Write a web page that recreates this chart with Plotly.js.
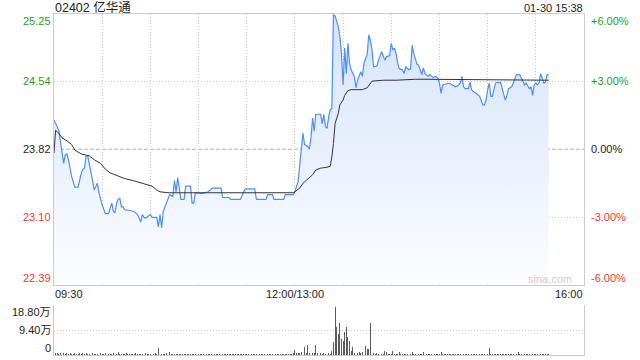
<!DOCTYPE html>
<html><head><meta charset="utf-8">
<script src="https://cdn.plot.ly/plotly-3.0.1.min.js"></script>
<style>html,body{margin:0;padding:0;background:#fff}#c{width:640px;height:360px}</style>
</head><body><div id="c"></div>
<script>
const stockTitle = '02402 亿华通';
const stampText = '01-30 15:38';
const prevClose = 23.82;
const priceTicks = [25.25, 24.54, 23.82, 23.10, 22.39];
const pctTicks = ['+6.00%', '+3.00%', '0.00%', '-3.00%', '-6.00%'];
const volTickVals = [18.8, 9.4, 0];
const volTickText = ['18.80万', '9.40万', '0'];
const timeTickVals = ['09:30', '12:00', '16:00'];
const timeTickText = ['09:30', '12:00/13:00', '16:00'];

const priceTimes = ['09:30','09:33','09:34','09:36','09:37','09:38','09:39','09:41','09:43','09:45','09:47','09:48','09:49','09:50','09:51','09:53','09:54','09:55','09:57','09:58','09:59','10:00','10:02','10:04','10:05','10:06','10:07','10:08','10:09','10:10','10:11','10:12','10:13','10:14','10:18','10:20','10:22','10:24','10:25','10:26','10:27','10:30','10:31','10:34','10:35','10:36','10:37','10:38','10:40','10:42','10:44','10:45','10:46','10:47','10:48','10:49','10:51','10:52','10:55','10:56','10:57','10:58','11:02','11:06','11:08','11:09','11:14','11:15','11:19','11:20','11:26','11:28','11:29','11:35','11:36','11:42','11:43','11:46','11:47','11:53','11:54','11:59','12:00',
'13:02','13:03','13:04','13:05','13:06','13:08','13:09','13:10','13:11','13:12','13:13','13:16','13:17','13:18','13:19','13:20','13:21','13:22','13:23','13:24','13:25','13:27','13:28','13:29','13:30','13:31','13:32','13:33','13:34','13:35','13:37','13:38','13:39','13:40','13:41','13:42','13:43','13:44','13:45','13:46','13:47','13:48','13:49','13:51','13:52','13:54','13:55','13:56','13:57','13:59','14:00','14:01','14:02','14:03','14:04','14:05','14:07','14:08','14:09','14:11','14:12','14:13','14:14','14:15','14:16','14:17','14:19','14:20','14:21','14:23','14:24','14:26','14:28','14:29','14:30','14:31','14:32','14:34','14:36','14:38','14:40','14:42','14:43','14:44','14:45','14:46','14:48','14:49','14:50','14:51','14:53','14:55','14:56','14:57','14:58','14:59','15:00','15:01','15:02','15:03','15:04','15:05','15:06','15:07','15:08','15:09','15:10','15:11','15:12','15:13','15:15','15:17','15:18','15:20','15:21','15:23','15:24','15:25','15:26','15:27','15:28','15:29','15:30','15:31','15:32','15:33','15:35','15:36','15:37','15:38'];
const priceVals = [24.13,24.02,23.90,23.67,23.76,23.77,23.71,23.53,23.42,23.42,23.57,23.61,23.62,23.75,23.75,23.60,23.49,23.39,23.46,23.36,23.30,23.23,23.14,23.14,23.20,23.25,23.16,23.15,23.25,23.29,23.30,23.21,23.21,23.18,23.17,23.16,23.13,23.05,23.13,23.10,23.09,23.13,23.10,23.10,23.00,23.13,22.99,23.16,23.25,23.34,23.32,23.49,23.37,23.52,23.41,23.29,23.29,23.43,23.43,23.25,23.25,23.36,23.35,23.37,23.40,23.41,23.41,23.31,23.31,23.29,23.29,23.36,23.40,23.40,23.29,23.29,23.34,23.34,23.29,23.29,23.34,23.34,23.37,
23.48,23.64,23.81,23.99,23.87,23.85,23.82,23.94,24.15,24.01,24.19,24.19,24.09,24.19,24.06,24.04,24.16,24.24,24.25,25.24,25.23,25.12,25.01,24.83,24.50,24.89,24.62,24.94,24.73,24.66,24.59,24.47,24.55,24.59,24.64,24.59,24.73,24.78,24.82,25.03,24.97,24.87,24.69,24.70,24.76,24.85,24.80,24.76,24.80,24.81,24.94,24.87,24.89,24.83,24.73,24.67,24.66,24.62,24.69,24.66,24.67,24.92,24.83,24.76,24.72,24.71,24.61,24.68,24.62,24.59,24.61,24.58,24.59,24.57,24.52,24.41,24.50,24.51,24.52,24.50,24.48,24.50,24.52,24.59,24.48,24.46,24.46,24.53,24.45,24.43,24.41,24.38,24.34,24.29,24.29,24.34,24.45,24.52,24.38,24.38,24.46,24.52,24.53,24.52,24.53,24.46,24.41,24.34,24.39,24.46,24.48,24.57,24.61,24.61,24.57,24.50,24.52,24.48,24.46,24.48,24.39,24.50,24.52,24.50,24.52,24.62,24.52,24.53,24.61,24.61];

const avgTimes = ['09:30','09:31','09:33','09:35','09:38','09:41','09:43','09:47','09:52','09:55','09:59','10:02','10:05','10:08','10:10','10:14','10:19','10:23','10:28','10:31','10:34','10:36','10:41','10:50','11:59','12:00','13:03','13:05','13:07','13:09','13:11','13:13','13:16','13:20','13:22','13:23','13:24','13:25','13:27','13:28','13:30','13:31','13:33','13:35','13:42','13:45','13:47','13:48','13:55','14:03','14:15','14:21','15:38'];
const avgVals = [23.78,24.02,23.99,23.94,23.91,23.87,23.81,23.77,23.75,23.71,23.67,23.61,23.57,23.55,23.53,23.51,23.49,23.47,23.45,23.43,23.39,23.37,23.36,23.36,23.36,23.37,23.41,23.46,23.49,23.51,23.55,23.60,23.62,23.63,23.64,23.74,23.88,24.09,24.20,24.29,24.34,24.39,24.44,24.45,24.45,24.47,24.52,24.54,24.55,24.55,24.56,24.56,24.55];

// volume in 万 shares, one value per minute: morning 09:30..12:00, afternoon 13:00..15:38
const volMorningStart = '09:30';
const volMorning = [1.2,0.6,0.8,0.5,0.7,0.4,0.9,0.5,0.6,0.4,
0.7,0.5,0.4,0.8,0.3,0.5,0.6,0.4,0.7,0.3,
0.6,0.4,0.5,0.3,0.8,0.4,0.5,0.3,0.4,0.6,
0.5,0.3,0.7,0.4,0.3,0.5,0.4,0.6,0.3,0.4,
1.1,0.3,0.5,0.4,0.3,0.6,0.4,0.3,0.5,0.4,
0.3,0.6,0.4,0.3,0.5,0.4,0.3,0.7,0.4,0.3,
0.5,0.4,0.3,0.6,0.4,2.5,0.5,0.3,0.4,0.3,
0.8,0.3,1.0,0.4,0.5,0.3,0.4,0.3,0.5,0.3,
0.4,0.3,0.5,0.3,0.4,0.3,0.3,0.4,0.3,0.5,
0.3,0.4,0.3,0.3,0.5,0.3,0.4,0.3,0.3,0.4,
0.3,0.5,0.3,0.3,0.4,0.3,0.3,0.4,0.3,0.3,
0.4,0.3,0.3,0.5,0.3,0.3,0.4,0.3,0.3,0.4,
0.3,0.3,0.4,0.3,0.5,0.3,0.3,0.4,0.3,0.3,
0.4,0.3,0.3,0.4,0.3,0.3,0.5,0.3,0.3,0.4,
0.3,0.3,0.4,0.3,0.3,0.4,0.3,0.5,0.4,0.6,
0.8];
const volAfternoonStart = '13:00';
const volAfternoon = [0.9,0.6,0.8,0.7,1.0,0.7,3.0,0.8,3.8,0.9,
1.0,0.8,0.6,3.8,0.6,0.5,0.7,0.5,0.6,0.5,
0.6,0.7,0.5,1.6,4.8,17.9,10.4,7.9,12.0,6.0,
5.4,8.5,10.7,6.6,5.4,1.6,2.9,0.8,7.3,0.8,
1.0,0.6,1.0,4.1,3.5,2.3,2.3,12.0,2.3,0.6,
0.5,0.7,0.5,0.6,0.5,0.4,1.4,1.2,0.5,0.4,
0.5,1.4,0.4,0.5,0.4,1.0,0.4,0.5,0.3,0.4,
0.5,0.3,0.4,1.0,0.4,0.3,0.5,0.3,0.4,0.3,
1.1,0.3,0.4,0.3,0.5,0.3,0.3,0.4,0.3,0.3,
0.4,1.2,0.3,0.3,0.4,0.3,0.3,0.4,0.3,0.3,
0.3,0.4,0.3,0.3,0.4,0.3,0.3,0.3,0.4,0.3,
0.3,0.4,0.3,0.3,0.8,0.3,0.4,0.3,0.3,0.4,
0.3,2.6,0.4,0.3,0.3,0.4,0.3,0.3,0.4,0.3,
0.3,0.4,0.3,0.3,0.4,0.3,0.3,0.4,0.3,1.2,
0.3,0.4,0.3,0.3,0.4,0.3,0.3,0.4,0.3,0.3,
0.4,0.3,0.3,0.4,0.3,0.3,0.4,0.3,0.5];

// map a trading time "HH:MM" to minute index on the session axis (lunch break removed)
function idx(t){
  const p = t.split(':'); const m = (+p[0])*60 + (+p[1]);
  return m <= 720 ? m - 570 : m - 780 + 150;
}
const volX = [], volY = [];
volMorning.forEach((v,i)=>{ volX.push(idx(volMorningStart)+i); volY.push(v); });
volAfternoon.forEach((v,i)=>{ volX.push(idx(volAfternoonStart)+i); volY.push(v); });

const FONT = 'Liberation Sans, Arial, Noto Sans CJK SC, sans-serif';
const GREEN = '#1e9e1e', RED = '#ee3b2b', DARK = '#222222';
const L = 54, R = 584, W = R - L;
const px = x => (x - L) / W;

const traces = [
  {x: priceTimes.map(idx), y: priceVals, type:'scatter', mode:'lines',
   line:{color:'#4d8ff0', width:1.2}, fill:'tozeroy',
   fillgradient:{type:'vertical', start:22.39, stop:25.25,
     colorscale:[[0,'rgba(252,253,255,1)'],[1,'rgba(213,227,250,1)']]},
   xaxis:'x', yaxis:'y', hoverinfo:'skip'},
  {x: avgTimes.map(idx), y: avgVals, type:'scatter', mode:'lines',
   line:{color:'#333333', width:1}, xaxis:'x', yaxis:'y', hoverinfo:'skip'},
  {x: volX, y: volY, type:'bar', width:0.55, marker:{color:'#5a5a5a', line:{width:0}},
   xaxis:'x2', yaxis:'y2', hoverinfo:'skip'}
];

const ann = [];
priceTicks.forEach((v,i)=>{
  const col = i < 2 ? GREEN : (i === 2 ? DARK : RED);
  const ys = i === 0 ? -6.5 : (i === priceTicks.length-1 ? 6.5 : 0);
  ann.push({xref:'paper', yref:'y', x:px(52.5), y:v, xanchor:'right', yanchor:'middle', yshift:ys,
    text:v.toFixed(2), showarrow:false, font:{family:FONT, size:11, color:col}});
  ann.push({xref:'paper', yref:'y', x:px(589), y:v, xanchor:'left', yanchor:'middle', yshift:ys,
    text:pctTicks[i], showarrow:false, font:{family:FONT, size:11, color:col}});
});
volTickVals.forEach((v,i)=>{
  const ys = i === 0 ? -7 : (i === volTickVals.length-1 ? 7 : 0);
  ann.push({xref:'paper', yref:'y2', x:px(52.5), y:v, xanchor:'right', yanchor:'middle', yshift:ys,
    text:volTickText[i], showarrow:false, font:{family:FONT, size:11, color:DARK}});
});
timeTickVals.forEach((t,i)=>{
  const anchor = i === 0 ? 'left' : (i === timeTickVals.length-1 ? 'right' : 'center');
  const xp = i === 0 ? px(53) : (i === timeTickVals.length-1 ? px(585) : null);
  const xpos = xp !== null ? xp : idx(t)/330;
  ann.push({xref:'paper', yref:'y', x:xpos, y:22.39, xanchor:anchor, yanchor:'middle', yshift:-9,
    text:timeTickText[i], showarrow:false, font:{family:FONT, size:11, color:DARK}});
});
ann.push({xref:'paper', yref:'paper', x:px(585), y:1, xanchor:'right', yanchor:'middle', yshift:6.5,
  text:stampText, showarrow:false, font:{family:FONT, size:11, color:DARK}});
ann.push({xref:'paper', yref:'y', x:px(574), y:22.39, xanchor:'right', yanchor:'middle', yshift:6,
  text:'sina.com', showarrow:false, font:{family:FONT, size:11, color:'#cfcfcf'}});

const layout = {
  width:640, height:360, showlegend:false,
  paper_bgcolor:'#ffffff', plot_bgcolor:'#ffffff',
  margin:{l:L, r:640-R, t:14, b:5, pad:0},
  title:{text:stockTitle, xref:'container', yref:'container', x:55/640, xanchor:'left',
    y:1-7.5/360, yanchor:'middle', font:{family:FONT, size:12.5, color:DARK}, pad:{t:0,b:0,l:0,r:0}},
  xaxis:{domain:[0,1], range:[0,330], anchor:'y', tickvals:[0,30,60,90,120,150,180,210,240,270,300,330],
    showticklabels:false, ticks:'', showgrid:true, gridcolor:'#c8c8c8', griddash:'1px,2px', gridwidth:1,
    zeroline:false, showline:true, mirror:true, linecolor:'#cccccc', linewidth:1, fixedrange:true},
  yaxis:{domain:[70.5/341,1], range:[22.39,25.25], anchor:'x', tickvals:[24.54,23.10],
    showticklabels:false, ticks:'', showgrid:true, gridcolor:'#c8c8c8', griddash:'1px,2px', gridwidth:1,
    zeroline:false, showline:true, mirror:true, linecolor:'#cccccc', linewidth:1, fixedrange:true},
  xaxis2:{domain:[0,1], range:[0,330], anchor:'y2', showticklabels:false, ticks:'', showgrid:false,
    zeroline:false, showline:true, linecolor:'#cccccc', linewidth:1, fixedrange:true},
  yaxis2:{domain:[0,50/341], range:[0,18.8], anchor:'x2', tickvals:[9.4,18.8], showticklabels:false, ticks:'',
    showgrid:true, gridcolor:'#c8c8c8', griddash:'1px,2px', gridwidth:1,
    zeroline:false, showline:true, mirror:true, linecolor:'#cccccc', linewidth:1, fixedrange:true},
  shapes:[{type:'line', xref:'paper', yref:'y', x0:0, x1:1, y0:prevClose, y1:prevClose,
    line:{color:'#b0b0b0', width:1, dash:'4px,2px'}, layer:'below'}],
  annotations:ann,
  bargap:0
};
Plotly.newPlot('c', traces, layout, {staticPlot:true, displayModeBar:false});
</script></body></html>
